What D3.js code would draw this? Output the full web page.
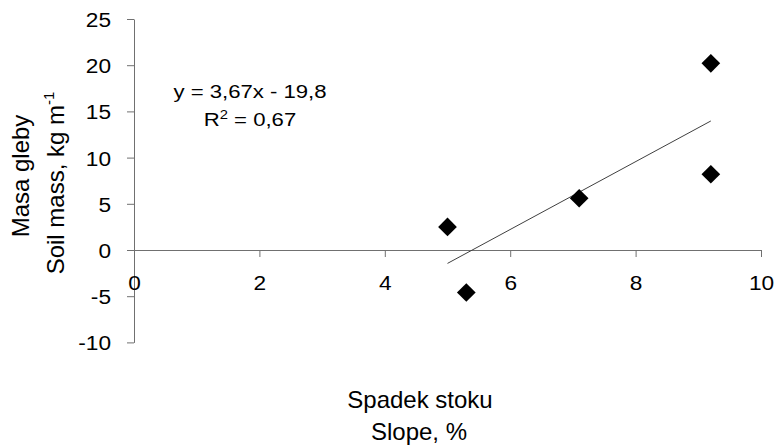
<!DOCTYPE html>
<html>
<head>
<meta charset="utf-8">
<script src="https://cdn.jsdelivr.net/npm/d3@7"></script>
<style>
  html, body { margin: 0; padding: 0; background: #fff; }
  svg { display: block; font-family: "Liberation Sans", Arial, sans-serif; }
</style>
</head>
<body>
<svg id="chart" width="774" height="446"></svg>
<script>
// ---- data ----
const slopeX = [5.0, 5.3, 7.1, 9.2, 9.2];
const soilMass = [2.5, -4.6, 5.6, 20.2, 8.2];
const xTicks = [0, 2, 4, 6, 8, 10];
const yTicks = [-10, -5, 0, 5, 10, 15, 20, 25];
const trendSlope = 3.67;
const trendIntercept = -19.8;
const equationText = "y = 3,67x - 19,8";
const r2Text = " = 0,67";
const xTitle = ["Spadek stoku", "Slope, %"];
const yTitle1 = "Masa gleby";
const yTitle2 = "Soil mass, kg m";

// ---- layout ----
const svg = d3.select("#chart");
const x = d3.scaleLinear().domain([0, 10]).range([134, 761]);
const y = d3.scaleLinear().domain([-10, 25]).range([342.4, 19]);
const axisColor = "#707070";
const tickStretch = 1.08;
const tickFont = 21;

// y axis
const gy = svg.append("g").attr("transform", `translate(${x(0)},0)`)
  .call(d3.axisLeft(y).tickValues(yTicks).tickSize(7).tickSizeOuter(0).tickPadding(16)
    .tickFormat(d => String(d)));
gy.select(".domain").attr("stroke", axisColor);
gy.selectAll(".tick line").attr("stroke", axisColor);
gy.selectAll(".tick text")
  .attr("font-size", tickFont).attr("fill", "#000").attr("font-family", null)
  .attr("dy", "0.36em")
  .attr("transform", function() { const xx = +this.getAttribute("x"); return `translate(${xx},0) scale(${tickStretch},1)`; })
  .attr("x", 0);

// x axis at y=0
const gx = svg.append("g").attr("transform", `translate(0,${y(0)})`)
  .call(d3.axisBottom(x).tickValues(xTicks).tickSize(7).tickSizeOuter(0)
    .tickFormat(d => String(d)));
gx.select(".domain").attr("stroke", axisColor);
gx.selectAll(".tick line").attr("stroke", axisColor);
gx.selectAll(".tick text")
  .attr("font-size", tickFont).attr("fill", "#000").attr("font-family", null)
  .attr("dy", 0)
  .attr("transform", `translate(0,39.5) scale(${tickStretch},1)`)
  .attr("y", 0);
gx.selectAll("g").filter(d => d === 0).select("line").remove();

// trend line
const xMin = d3.min(slopeX), xMax = d3.max(slopeX);
svg.append("line")
  .attr("x1", x(xMin)).attr("y1", y(trendSlope * xMin + trendIntercept))
  .attr("x2", x(xMax)).attr("y2", y(trendSlope * xMax + trendIntercept))
  .attr("stroke", "#404040").attr("stroke-width", 1);

// points (diamonds)
const pts = slopeX.map((v, i) => ({ x: v, y: soilMass[i] }));
svg.append("g").selectAll("path").data(pts).join("path")
  .attr("d", d3.symbol(d3.symbolSquare, 175)())
  .attr("transform", d => `translate(${x(d.x)},${y(d.y)}) rotate(45)`)
  .attr("fill", "#000");

// equation text
const eq = svg.append("g").attr("transform", "translate(250,0) scale(1.23,1)");
eq.append("text").attr("x", 0).attr("y", 98.5).attr("text-anchor", "middle")
  .attr("font-size", 18).text(equationText);
const r2 = eq.append("text").attr("x", 0).attr("y", 126.5).attr("text-anchor", "middle")
  .attr("font-size", 18);
r2.append("tspan").text("R");
r2.append("tspan").attr("font-size", 12).attr("dy", -7).text("2");
r2.append("tspan").attr("dy", 7).text(r2Text);

// x title
svg.append("text").attr("x", 420).attr("y", 407.5).attr("text-anchor", "middle")
  .attr("font-size", 24).text(xTitle[0]);
svg.append("text").attr("x", 419).attr("y", 439.5).attr("text-anchor", "middle")
  .attr("font-size", 24).text(xTitle[1]);

// y title
svg.append("text").attr("transform", "translate(28.5,176) rotate(-90)")
  .attr("text-anchor", "middle").attr("font-size", 24).text(yTitle1);
const yt2 = svg.append("text").attr("transform", "translate(63.5,183) rotate(-90)")
  .attr("text-anchor", "middle").attr("font-size", 24);
yt2.append("tspan").text(yTitle2);
yt2.append("tspan").attr("font-size", 15).attr("dy", -10).text("-1");
</script>
</body>
</html>
